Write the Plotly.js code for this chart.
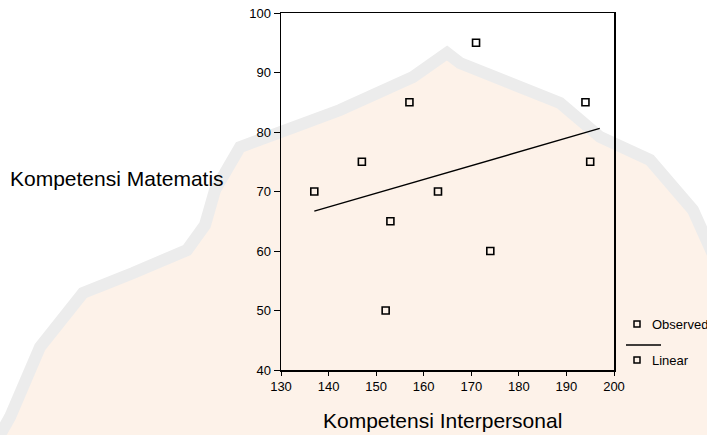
<!DOCTYPE html>
<html>
<head>
<meta charset="utf-8">
<script src="https://cdn.plot.ly/plotly-3.0.1.min.js"></script>
<style>html,body{margin:0;padding:0;background:#fff;}#chart{width:707px;height:435px;}</style>
</head>
<body>
<div id="chart"></div>
<script>
// Observed data
var kompetensiInterpersonal = [137, 147, 157, 171, 163, 153, 152, 174, 194, 195];
var kompetensiMatematis     = [70, 75, 85, 95, 70, 65, 50, 60, 85, 75];
// Linear fit line
var linearX = [137, 197];
var linearY = [66.7, 80.6];
var xTicks = [130, 140, 150, 160, 170, 180, 190, 200];
var yTicks = [40, 50, 60, 70, 80, 90, 100];

var W = 707, H = 435, ML = 281, MR = 93, MT = 13, MB = 65;
var PW = W - ML - MR, PH = H - MT - MB;
function px(x) { return (x - ML) / PW; }
function py(y) { return (H - MB - y) / PH; }

// faint background watermark outline (decorative), extended past the page edges
var wm = [[-30,480],[-20,470],[10,417],[40,347],[83,293],[133,273],[187,250],[205,225],[215,190],[240,147],[300,125],[340,110],[413,77],[447,53],[460,63],[560,103],[600,137],[650,160],[693,210],[720,270],[740,480]];
var path = wm.map(function(p, i){ return (i ? 'L' : 'M') + px(p[0]).toFixed(4) + ',' + py(p[1]).toFixed(4); }).join(' ') + ' Z';

var font = 'Liberation Sans, Arial, sans-serif';

var traces = [
  {
    x: kompetensiInterpersonal, y: kompetensiMatematis,
    type: 'scatter', mode: 'markers', name: 'Observed',
    marker: {symbol: 'square-open', size: 7, color: '#000', line: {width: 1.6, color: '#000'}},
    showlegend: false, cliponaxis: false
  },
  {
    x: linearX, y: linearY,
    type: 'scatter', mode: 'lines', name: 'Linear',
    line: {color: '#000', width: 1.4},
    showlegend: false
  }
];

var layout = {
  width: W, height: H,
  margin: {l: ML, r: MR, t: MT, b: MB, pad: 0},
  paper_bgcolor: '#ffffff',
  plot_bgcolor: 'rgba(0,0,0,0)',
  font: {family: font, size: 13, color: '#000'},
  xaxis: {
    range: [130, 200], tickvals: xTicks, ticktext: xTicks.map(String),
    showline: true, linecolor: '#000', linewidth: 1.5, mirror: true,
    ticks: 'outside', ticklen: 4, tickcolor: '#000', tickwidth: 1,
    showgrid: false, zeroline: false, fixedrange: true,
    tickfont: {family: font, size: 13, color: '#000'}
  },
  yaxis: {
    range: [40, 100], tickvals: yTicks, ticktext: yTicks.map(String),
    showline: true, linecolor: '#000', linewidth: 1.5, mirror: true,
    ticks: 'outside', ticklen: 6, tickcolor: '#000', tickwidth: 1,
    showgrid: false, zeroline: false, fixedrange: true,
    tickfont: {family: font, size: 13, color: '#000'}
  },
  shapes: [
    {type: 'path', xref: 'paper', yref: 'paper', path: path, layer: 'below',
     fillcolor: '#fdf2e9', line: {color: '#ececec', width: 12}},
    // custom legend
    {type: 'rect', xref: 'paper', yref: 'paper', x0: px(634), x1: px(640), y0: py(321), y1: py(327), line: {color: '#000', width: 1.5}},
    {type: 'line', xref: 'paper', yref: 'paper', x0: px(626), x1: px(661), y0: py(345), y1: py(345), line: {color: '#000', width: 1.4}},
    {type: 'rect', xref: 'paper', yref: 'paper', x0: px(634), x1: px(640), y0: py(357), y1: py(363), line: {color: '#000', width: 1.5}}
  ],
  annotations: [
    {text: 'Kompetensi Matematis', xref: 'paper', yref: 'paper', x: px(226), y: py(178),
     xanchor: 'right', yanchor: 'middle', showarrow: false, font: {family: font, size: 21, color: '#000'}},
    {text: 'Kompetensi Interpersonal', xref: 'paper', yref: 'paper', x: px(442), y: py(420),
     xanchor: 'center', yanchor: 'middle', showarrow: false, font: {family: font, size: 21, color: '#000'}},
    {text: 'Observed', xref: 'paper', yref: 'paper', x: px(650), y: py(324),
     xanchor: 'left', yanchor: 'middle', showarrow: false, font: {family: font, size: 13, color: '#000'}},
    {text: 'Linear', xref: 'paper', yref: 'paper', x: px(650), y: py(360),
     xanchor: 'left', yanchor: 'middle', showarrow: false, font: {family: font, size: 13, color: '#000'}}
  ]
};

Plotly.newPlot('chart', traces, layout, {displayModeBar: false, staticPlot: true});
</script>
</body>
</html>
